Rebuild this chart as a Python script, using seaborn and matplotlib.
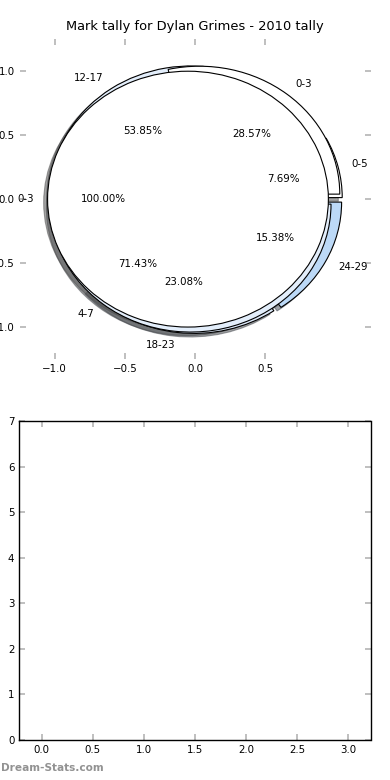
import matplotlib
matplotlib.use("Agg")
import matplotlib.pyplot as plt
import seaborn as sns

TITLE = "Mark tally for Dylan Grimes - 2010 tally"
WATERMARK = "Dream-Stats.com"

# three pies on one axes, drawn bottom to top
c_labels = ["0-5", "12-17", "18-23", "24-29"]
c_counts = [1, 7, 3, 2]
b_labels = ["0-3", "4-7"]
b_counts = [2, 5]
a_labels = ["0-3"]
a_counts = [1]

c_colors = ["white", "#e3eefb", "#dde9f9", "#bcd9f7"]
b_colors = ["white", "#e3eefb"]
a_colors = ["white"]

pie_xticks = [-1.0, -0.5, 0.0, 0.5]
pie_yticks = [-1.0, -0.5, 0.0, 0.5, 1.0]

bar_xticks = [0.0, 0.5, 1.0, 1.5, 2.0, 2.5, 3.0]
bar_yticks = [0, 1, 2, 3, 4, 5, 6, 7]

sns.set_theme(style="white")
plt.rcParams["font.family"] = ["DejaVu Sans"]
plt.rcParams["text.color"] = "black"
plt.rcParams["axes.titlecolor"] = "black"

FS = 7.4
TICK_COLOR = "#b4b4b4"


def draw_pies(ax):
    for counts, labels, colors in [(c_counts, c_labels, c_colors),
                                   (b_counts, b_labels, b_colors),
                                   (a_counts, a_labels, a_colors)]:
        ax.pie(counts, labels=labels, colors=colors, autopct="%1.2f%%",
               explode=[0.05] * len(counts), shadow=True, startangle=0,
               labeldistance=1.1, pctdistance=0.6,
               wedgeprops={"edgecolor": "black", "linewidth": 0.8},
               textprops={"fontsize": FS, "color": "black"})
    ax.set_aspect("auto")
    ax.set_frame_on(False)
    ax.set_xlim(-1.25, 1.25)
    ax.set_ylim(-1.25, 1.25)
    ax.set_xticks(pie_xticks)
    ax.set_yticks(pie_yticks)
    ax.tick_params(direction="in", top=True, right=True, bottom=True, left=True,
                   color=TICK_COLOR, length=4, width=1.2, labelsize=FS,
                   labelcolor="black")
    ax.set_title(TITLE, fontsize=9.4, pad=7, color="black")


def draw_empty(ax):
    ax.set_xlim(-0.22, 3.22)
    ax.set_ylim(0, 7)
    ax.set_xticks(bar_xticks)
    ax.set_yticks(bar_yticks)
    ax.set_xticklabels([f"{t:.1f}" for t in bar_xticks])
    for s in ax.spines.values():
        s.set_visible(True)
        s.set_color("black")
        s.set_linewidth(1.0)
    ax.tick_params(direction="in", top=True, right=True, bottom=True, left=True,
                   color=TICK_COLOR, length=4, width=1.2, labelsize=FS,
                   labelcolor="black")


fig = plt.figure(figsize=(3.9, 7.8), dpi=100)
fig.patch.set_facecolor("white")
ax_pie = fig.add_axes([0.05, 0.5397, 0.90, 0.41])
ax_bar = fig.add_axes([0.0495, 0.0513, 0.9005, 0.409])
ax_bar.set_facecolor("white")

draw_pies(ax_pie)
draw_empty(ax_bar)

fig.text(0.002, 0.0154, WATERMARK, fontsize=7.6, color="#929292",
         fontweight="bold", ha="left", va="center")

fig.savefig("out.png", dpi=100, facecolor="white")
